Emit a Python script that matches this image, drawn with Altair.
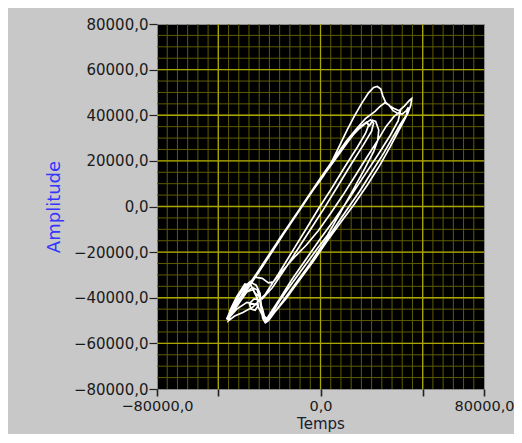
import altair as alt
import pandas as pd

# ---- axis ranges and ticks ----
X_DOMAIN = [-80000, 80000]
Y_DOMAIN = [-80000, 80000]
x_ticks = [-80000, -50000, 0, 50000, 80000]
y_ticks = [-80000, -60000, -40000, -20000, 0, 20000, 40000, 60000, 80000]
minor_x = list(range(-75000, 80000, 5000))
minor_y = list(range(-75000, 80000, 5000))
major_x = [-50000, 0, 50000]
major_y = [-60000, -40000, -20000, 0, 20000, 40000, 60000]

# ---- curve (in thousands) ----
cycle_a_x = [-45.1, -43.5, -40.0, -34.5, -27.0, -20.0, -12.0, -5.0, 1.5, 6.0, 9.5, 13.0, 16.5, 20.0, 23.5, 26.0, 27.8, 29.5, 30.5, 31.8, 33.5, 36.0, 38.5, 41.0, 43.5, 44.6, 44.2, 42.8, 40.5, 37.5, 34.0, 29.0, 23.0, 16.5, 9.5, 3.0, -3.5, -10.5, -17.0, -22.5, -25.5, -27.0, -28.3, -29.0, -29.8, -31.0, -33.5, -36.5, -40.0, -43.0, -45.5]
cycle_a_y = [-49.1, -46.0, -41.5, -34.5, -24.0, -14.0, -3.5, 5.5, 13.5, 20.5, 27.0, 33.5, 39.5, 45.0, 49.8, 52.2, 52.6, 51.5, 48.5, 45.8, 44.3, 43.0, 42.0, 44.0, 46.5, 47.3, 44.5, 41.0, 37.0, 32.0, 26.0, 18.0, 9.5, 1.0, -7.5, -15.5, -24.0, -32.5, -40.5, -46.5, -50.0, -51.0, -49.0, -45.0, -40.0, -36.5, -35.5, -38.0, -42.5, -46.5, -49.8]

cycle_b_x = [-44.0, -41.0, -37.0, -31.0, -24.0, -16.5, -9.0, -1.5, 5.5, 11.5, 16.0, 19.5, 22.5, 24.0, 25.5, 27.0, 28.5, 28.0, 26.0, 21.0, 15.5, 9.5, 3.5, -2.0, -8.5, -15.0, -20.5, -24.0, -26.0, -27.5, -28.5, -30.0, -32.5, -34.8, -34.0, -32.0, -30.5, -31.0, -33.0, -36.5, -40.0, -43.0, -44.5]
cycle_b_y = [-46.5, -42.0, -37.0, -29.0, -19.5, -9.5, 0.5, 10.0, 18.5, 26.0, 31.5, 35.0, 37.0, 35.5, 37.8, 37.3, 33.5, 29.0, 24.0, 15.5, 6.5, -3.0, -12.5, -19.0, -27.0, -35.0, -42.0, -47.5, -49.5, -48.0, -44.5, -41.0, -40.5, -42.5, -45.0, -45.5, -43.5, -40.0, -36.5, -37.5, -41.5, -45.5, -48.0]

cycle_c_x = [-42.0, -38.0, -30.0, -22.5, -15.0, -7.5, 0.0, 7.0, 12.5, 17.5, 22.0, 26.7, 29.0, 31.5, 33.5, 35.5, 37.5, 40.0, 42.0, 43.0, 42.0, 39.0, 35.5, 31.0, 25.0, 19.0, 12.5, 6.0, 0.5, -5.5, -12.0, -18.0, -22.5, -25.0, -26.5, -28.0, -29.0, -29.6, -31.5, -34.5, -37.0, -40.5, -44.0, -46.0]
cycle_c_y = [-44.5, -39.0, -28.0, -17.5, -7.5, 2.5, 12.5, 21.5, 28.5, 34.0, 38.5, 41.7, 43.8, 45.5, 44.5, 42.0, 41.0, 40.5, 42.0, 43.5, 40.0, 36.0, 30.5, 23.5, 15.0, 6.5, -2.0, -10.5, -17.5, -25.5, -33.5, -41.0, -46.5, -49.5, -50.5, -47.5, -43.0, -38.0, -34.5, -33.0, -35.0, -40.0, -45.5, -49.5]

cycle_d_x = [-43.0, -39.0, -35.5, -32.0, -28.5, -25.5, -23.0, -18.0, -12.0, -7.0, -1.0, 5.0, 11.0, 17.0, 23.0, 28.0, 32.0, 36.0, 39.0, 38.0, 34.0, 28.0, 21.0, 14.0, 7.0, 0.0, -7.0, -14.0, -20.0, -24.0, -26.5, -28.0, -31.0, -36.0, -41.0, -44.5]
cycle_d_y = [-45.0, -39.5, -34.0, -31.0, -31.5, -33.5, -33.0, -27.5, -21.5, -17.0, -10.5, -3.0, 5.0, 13.5, 22.0, 29.0, 35.0, 39.5, 41.5, 37.5, 31.0, 22.5, 13.0, 3.5, -5.5, -14.0, -23.0, -32.0, -40.5, -46.0, -49.5, -48.5, -43.0, -42.0, -45.0, -48.5]

cycle_e_x = [-42.5, -38.0, -32.0, -25.0, -18.0, -10.5, -3.0, 4.0, 10.0, 15.0, 19.0, 21.5, 22.8, 23.5, 22.0, 18.0, 12.0, 5.5, -1.0, -7.5, -14.0, -20.5, -27.0, -33.0, -38.0, -42.0, -45.0]
cycle_e_y = [-45.5, -39.5, -31.0, -21.5, -12.0, -2.0, 8.0, 17.0, 24.5, 30.5, 34.2, 36.0, 36.8, 35.5, 32.0, 26.0, 17.5, 8.0, -1.0, -10.5, -20.0, -29.5, -38.5, -44.0, -46.5, -48.0, -50.0]

cycle_f_x = [-44.0, -40.5, -36.0, -30.0, -23.0, -15.5, -8.0, -0.5, 6.5, 12.5, 17.0, 20.5, 24.5, 26.0, 25.0, 21.0, 15.0, 8.5, 2.0, -4.5, -11.0, -17.5, -23.5, -28.5, -32.0, -34.0, -37.0, -41.0, -44.5]
cycle_f_y = [-47.5, -42.5, -36.5, -28.5, -19.0, -8.5, 1.5, 11.5, 20.0, 27.5, 32.5, 35.5, 38.0, 36.5, 33.0, 27.0, 18.5, 9.0, -0.5, -9.5, -18.5, -27.5, -35.5, -40.5, -38.0, -34.5, -34.0, -39.5, -46.0]

xs_all, ys_all = [], []
for cx, cy in [(cycle_a_x, cycle_a_y), (cycle_b_x, cycle_b_y), (cycle_c_x, cycle_c_y),
               (cycle_d_x, cycle_d_y), (cycle_e_x, cycle_e_y), (cycle_f_x, cycle_f_y)]:
    xs_all += [v * 1000 for v in cx]
    ys_all += [v * 1000 for v in cy]
curve = pd.DataFrame({"x": xs_all, "y": ys_all, "i": list(range(len(xs_all)))})

xscale = alt.Scale(domain=X_DOMAIN, nice=False, zero=False)
yscale = alt.Scale(domain=Y_DOMAIN, nice=False, zero=False)

FONT = "DejaVu Sans"
fmt = "replace(format(datum.value, '.1f'), '.', ',')"

x_axis = alt.Axis(
    values=x_ticks, labelExpr="abs(datum.value) == 50000 ? '' : " + fmt,
    grid=False, domain=False, tickColor="#222222", tickSize=7, tickWidth=1.6,
    labelColor="#1a1a1a", labelFont=FONT, labelFontSize=14.5, labelPadding=3,
    labelFlush=False, labelOverlap=False,
    title="Temps", titleColor="#1a2030", titleFont=FONT, titleFontSize=15,
    titleFontWeight="normal", titlePadding=4)
y_axis = alt.Axis(
    values=y_ticks, labelExpr=fmt,
    grid=False, domain=False, tickColor="#222222", tickSize=8, tickWidth=1.2,
    labelColor="#1a1a1a", labelFont=FONT, labelFontSize=15, labelPadding=1,
    labelFlush=False, labelOverlap=False,
    title="Amplitude", titleColor="#3535ff", titleFont=FONT, titleFontSize=18,
    titleFontWeight="normal", titlePadding=10)

MINOR = "#5e5c00"
MAJOR = "#aaa600"

minor_v = alt.Chart(pd.DataFrame({"v": minor_x})).mark_rule(color=MINOR, strokeWidth=1).encode(
    x=alt.X("v:Q", scale=xscale, axis=x_axis))
minor_h = alt.Chart(pd.DataFrame({"v": minor_y})).mark_rule(color=MINOR, strokeWidth=1).encode(
    y=alt.Y("v:Q", scale=yscale, axis=y_axis))
major_v = alt.Chart(pd.DataFrame({"v": major_x})).mark_rule(color=MAJOR, strokeWidth=1.3).encode(
    x=alt.X("v:Q", scale=xscale, axis=x_axis))
major_h = alt.Chart(pd.DataFrame({"v": major_y})).mark_rule(color=MAJOR, strokeWidth=1.3).encode(
    y=alt.Y("v:Q", scale=yscale, axis=y_axis))

line = alt.Chart(curve).mark_line(color="white", strokeWidth=1.7).encode(
    x=alt.X("x:Q", scale=xscale, axis=x_axis),
    y=alt.Y("y:Q", scale=yscale, axis=y_axis),
    order=alt.Order("i:Q"),
)

chart = alt.layer(minor_v, minor_h, major_v, major_h, line).properties(
    width=327, height=365,
    padding={"left": 149, "top": 16, "right": 30, "bottom": 45},
    autosize=alt.AutoSizeParams(type="none"),
    background="#c8c8c8",
).configure_view(fill="black", stroke="#8a8a8a", strokeWidth=1)

chart.save("out.html", embed_options={"renderer": "svg", "actions": False})
